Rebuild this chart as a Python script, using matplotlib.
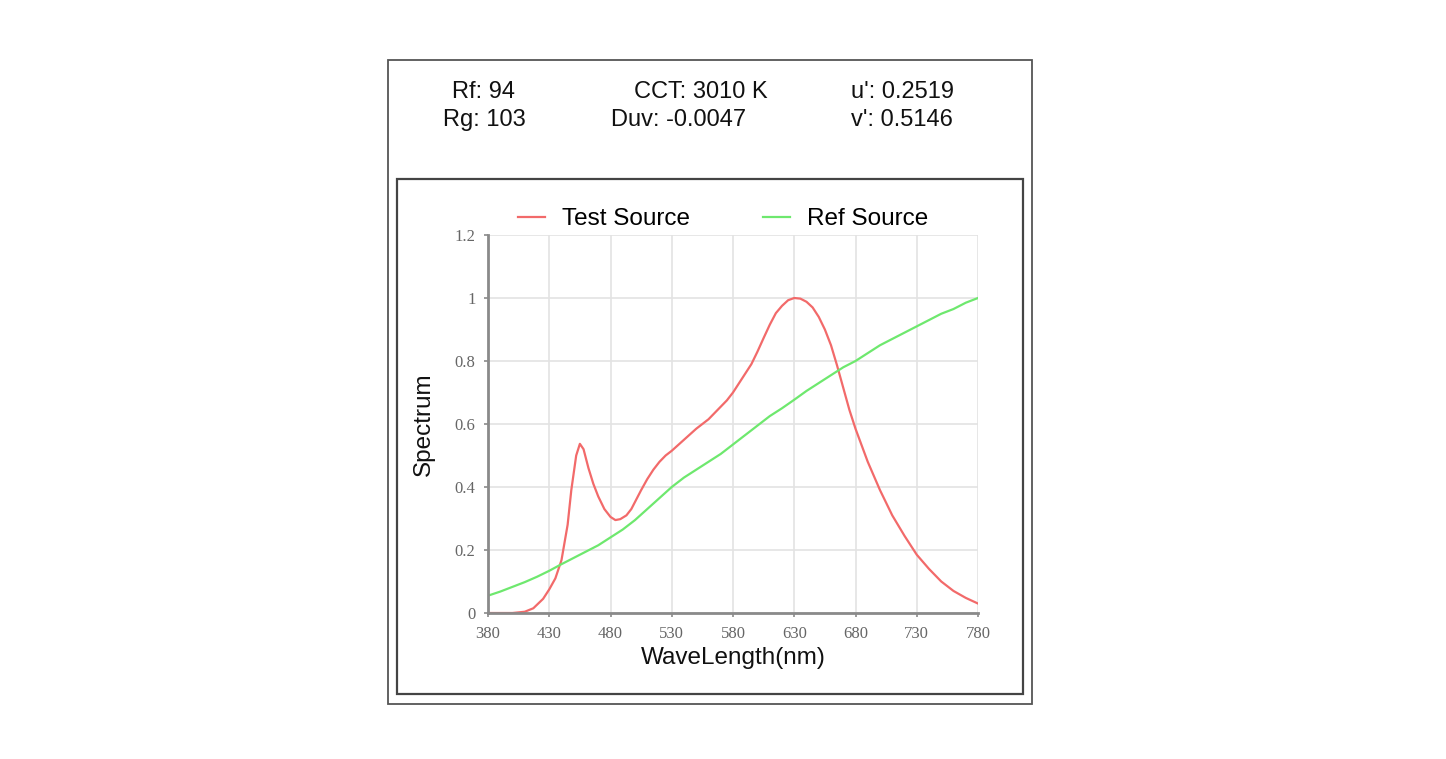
import matplotlib
matplotlib.use('Agg')
import matplotlib.pyplot as plt
from matplotlib.patches import Rectangle

plt.rcParams['font.family'] = ['Liberation Sans', 'DejaVu Sans']

# 波长 (nm) 与两条光谱的读数
wl_test = [380, 390, 400, 410, 417, 425, 430, 435, 440, 445, 448, 452, 455, 458, 462, 466,
           470, 475, 480, 484, 488, 493, 497, 501, 505, 510, 515, 520, 525, 530, 540, 550,
           555, 560, 565, 570, 575, 580, 585, 590, 595, 600, 605, 610, 615, 620, 625, 630,
           635, 640, 645, 650, 655, 660, 665, 670, 675, 680, 690, 700, 710, 720, 730, 740,
           750, 760, 770, 780]
test_source = [0.0, 0.0, 0.0, 0.004, 0.015, 0.045, 0.075, 0.11, 0.168, 0.28, 0.39, 0.50, 0.537, 0.52, 0.46, 0.41,
               0.37, 0.33, 0.305, 0.295, 0.298, 0.31, 0.33, 0.36, 0.39, 0.425, 0.455, 0.48, 0.50, 0.515, 0.55, 0.585,
               0.60, 0.615, 0.635, 0.655, 0.675, 0.70, 0.73, 0.76, 0.79, 0.83, 0.873, 0.915, 0.952, 0.975, 0.993, 1.0,
               0.998, 0.988, 0.97, 0.94, 0.90, 0.85, 0.785, 0.715, 0.645, 0.585, 0.48, 0.39, 0.31, 0.245, 0.185, 0.14,
               0.10, 0.07, 0.048, 0.03]

wl_ref = [380, 390, 400, 410, 420, 430, 440, 450, 460, 470, 480, 490, 500, 510, 520, 530,
          540, 550, 560, 570, 580, 590, 600, 610, 620, 630, 640, 650, 660, 670, 680, 690,
          700, 710, 720, 730, 740, 750, 760, 770, 780]
ref_source = [0.055, 0.068, 0.083, 0.098, 0.115, 0.134, 0.155, 0.175, 0.195, 0.215, 0.24, 0.265, 0.295,
              0.33, 0.365, 0.40, 0.43, 0.455, 0.48, 0.505, 0.535, 0.565, 0.595, 0.625, 0.65, 0.677, 0.705,
              0.73, 0.755, 0.78, 0.80, 0.825, 0.85, 0.87, 0.89, 0.91, 0.93, 0.95, 0.965, 0.985, 1.0]

x_ticks = [380, 430, 480, 530, 580, 630, 680, 730, 780]
y_ticks = [0, 0.2, 0.4, 0.6, 0.8, 1.0, 1.2]
y_tick_labels = ['0', '0.2', '0.4', '0.6', '0.8', '1', '1.2']

# 顶部参数
header_left = ['Rf: 94', 'Rg: 103']
header_mid = ['CCT: 3010 K', 'Duv: -0.0047']
header_right = ["u': 0.2519", "v': 0.5146"]

W, H = 1446, 759
fig = plt.figure(figsize=(W / 100, H / 100), dpi=100)


def fx(px):
    return px / W


def fy(py):
    return 1 - py / H


# 外框和内框
fig.add_artist(Rectangle((fx(388), fy(704)), fx(1032) - fx(388), fy(60) - fy(704),
                         transform=fig.transFigure, fill=False, edgecolor='#555555', linewidth=1.3))
fig.add_artist(Rectangle((fx(397), fy(694)), fx(1023) - fx(397), fy(179) - fy(694),
                         transform=fig.transFigure, fill=False, edgecolor='#444444', linewidth=1.6))

# 参数文字
mid_x = [701, 679]
for i, (a, b, c) in enumerate(zip(header_left, header_mid, header_right)):
    y = fy(92 + i * 28)
    fig.text(fx(484), y, a, ha='center', va='center', fontsize=17, color='#111111')
    fig.text(fx(mid_x[i]), y, b, ha='center', va='center', fontsize=17, color='#111111')
    fig.text(fx(851), y, c, ha='left', va='center', fontsize=17, color='#111111')

ax = fig.add_axes([fx(488), fy(613), fx(978) - fx(488), fy(235) - fy(613)])
ax.plot(wl_test, test_source, color='#f26a6a', linewidth=1.6, label='Test Source')
ax.plot(wl_ref, ref_source, color='#6ee86e', linewidth=1.6, label='Ref Source')

ax.set_xlim(380, 780)
ax.set_ylim(0, 1.2)
ax.set_xticks(x_ticks)
ax.set_xticklabels([str(t) for t in x_ticks], family='Liberation Serif', fontsize=12, color='#666666')
ax.set_yticks(y_ticks)
ax.set_yticklabels(y_tick_labels, family='Liberation Serif', fontsize=12, color='#666666')
ax.grid(True, color='#e3e3e3', linewidth=1.2)
ax.set_axisbelow(True)
for s in ['top', 'right']:
    ax.spines[s].set_visible(False)
for s in ['left', 'bottom']:
    ax.spines[s].set_color('#8a8a8a')
    ax.spines[s].set_linewidth(2)
ax.tick_params(direction='out', length=3, width=1.2, color='#8a8a8a', pad=6)

ax.set_xlabel('WaveLength(nm)', fontsize=17.5, color='#111111', labelpad=4)
ax.set_ylabel('Spectrum', fontsize=17.5, color='#111111', labelpad=14)

fig.legend(loc='center', bbox_to_anchor=(fx(723), fy(219)), ncol=2, frameon=False,
           fontsize=17.5, handlelength=1.1, handletextpad=0.7, columnspacing=3.0)

fig.savefig('out.png', dpi=100, facecolor='white')
